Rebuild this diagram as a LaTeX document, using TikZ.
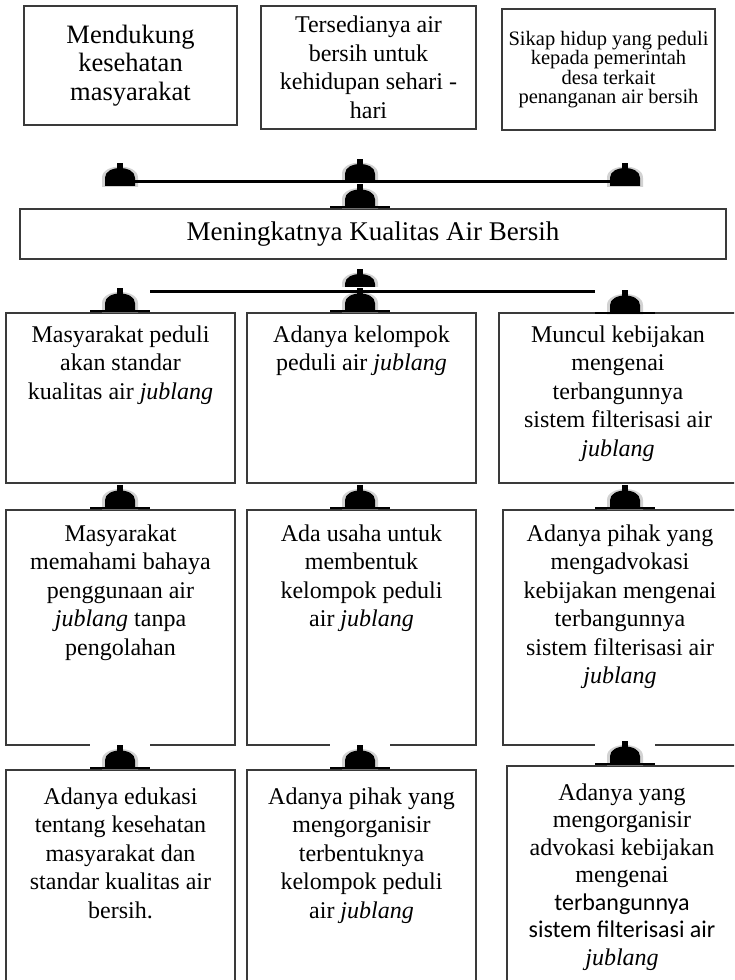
\documentclass[tikz,border=0pt]{standalone}
\usepackage{fontspec}
\setmainfont{Liberation Serif}
\newfontfamily\calibri{Carlito}
\usetikzlibrary{positioning,calc}
\definecolor{BoxInk}{HTML}{3A3A3A}

% arrow heads drawn as small domes on a white patch
\newcommand{\hatdome}{%
  \fill[gray!35] ($(path picture bounding box.south)+(-18pt,0pt)$) -- ++(0pt,9pt) .. controls +(0pt,15pt) and +(0pt,15pt) .. ($(path picture bounding box.south)+(18pt,9pt)$) -- ++(0pt,-9pt) -- cycle;
  \fill[black] ($(path picture bounding box.south)+(-15pt,1pt)$) -- ++(0pt,8pt) .. controls +(0pt,13pt) and +(0pt,13pt) .. ($(path picture bounding box.south)+(15pt,9pt)$) -- ++(0pt,-8pt) -- cycle;
  \fill[black] ($(path picture bounding box.south)+(-3pt,17pt)$) rectangle ($(path picture bounding box.south)+(3pt,24pt)$);}
\newcommand{\hatbrim}{%
  \draw[line width=2.6pt, black] ($(path picture bounding box.south)+(-30pt,1.3pt)$) -- ($(path picture bounding box.south)+(30pt,1.3pt)$);}

\tikzset{
  box/.style={draw=BoxInk, line width=1.1pt, fill=white, inner sep=0pt, align=center,
    font=\fontsize{24}{28.5}\selectfont},
  boxtext/.style={align=center, inner sep=0pt, font=\fontsize{24}{28.5}\selectfont},
  hat/.style={fill=white, minimum width=60pt, minimum height=25pt, inner sep=0pt,
    anchor=south, path picture={\hatdome}},
  brimhat/.style={hat, path picture={\hatdome\hatbrim}},
  link/.style={line width=3pt, black}
}

\begin{document}
\begin{tikzpicture}[x=1pt, y=1pt]
  \useasboundingbox (0,0) rectangle (734,-980);
  \clip (0,0) rectangle (734,-980);

  % top effects
  \node[box, minimum width=213, minimum height=119, font=\fontsize{26.5}{28.5}\selectfont]
    (eff1) at (130.5,-65.5) {Mendukung\\kesehatan\\masyarakat};
  \node[box, minimum width=215, minimum height=123]
    (eff2) at (368.5,-67.5) {Tersedianya air\\bersih untuk\\kehidupan sehari -\\hari};
  \node[box, minimum width=213, minimum height=121, font=\fontsize{20.5}{19.5}\selectfont]
    (eff3) at (608.5,-69.5) {Sikap hidup yang peduli\\kepada pemerintah\\desa terkait\\penanganan air bersih};

  % goal
  \node[box, minimum width=706, minimum height=50, font=\fontsize{27}{30}\selectfont]
    (goal) at (373,-234) {Meningkatnya Kualitas Air Bersih};

  % outputs
  \node[box, minimum width=229, minimum height=170] (out1) at (120.5,-398) {};
  \node[box, minimum width=229, minimum height=170] (out2) at (361.5,-398) {};
  \node[box, minimum width=238, minimum height=170] (out3) at (618,-398) {};
  \node[boxtext, below=13 of out1.north] {Masyarakat peduli\\akan standar\\kualitas air \textit{jublang}};
  \node[boxtext, below=13 of out2.north] {Adanya kelompok\\peduli air \textit{jublang}};
  \node[boxtext, below=13 of out3.north] {Muncul kebijakan\\mengenai\\terbangunnya\\sistem filterisasi air\\\textit{jublang}};

  % activities
  \node[box, minimum width=229, minimum height=235] (act1) at (120.5,-627.5) {};
  \node[box, minimum width=229, minimum height=235] (act2) at (361.5,-627.5) {};
  \node[box, minimum width=234, minimum height=235] (act3) at (620,-627.5) {};
  \node[boxtext, below=15 of act1.north] {Masyarakat\\memahami bahaya\\penggunaan air\\\textit{jublang} tanpa\\pengolahan};
  \node[boxtext, below=15 of act2.north] {Ada usaha untuk\\membentuk\\kelompok peduli\\air \textit{jublang}};
  \node[boxtext, below=15 of act3.north] {Adanya pihak yang\\mengadvokasi\\kebijakan mengenai\\terbangunnya\\sistem filterisasi air\\\textit{jublang}};

  % inputs
  \node[box, minimum width=229, minimum height=220] (inp1) at (120.5,-880) {};
  \node[box, minimum width=229, minimum height=220] (inp2) at (361.5,-880) {};
  \node[box, minimum width=230, minimum height=224] (inp3) at (622,-878) {};
  \node[boxtext, below=18 of inp1.north] {Adanya edukasi\\tentang kesehatan\\masyarakat dan\\standar kualitas air\\bersih.};
  \node[boxtext, below=18 of inp2.north] {Adanya pihak yang\\mengorganisir\\terbentuknya\\kelompok peduli\\air \textit{jublang}};
  \node[boxtext, below=18 of inp3.north, font=\fontsize{24}{27.5}\selectfont] {Adanya yang\\mengorganisir\\advokasi kebijakan\\mengenai\\{\calibri terbangunnya}\\{\calibri sistem filterisasi air}\\\textit{jublang}};

  % arrow heads
  \node[hat] (upL) at (120,-187) {};
  \node[brimhat] (upC) at (360,-183) {};
  \node[hat] (upR) at (625,-187) {};
  \node[brimhat] (goalIn) at (goal.north -| upC) {};
  \node[brimhat] (splitC) at (360,-293) {};
  \node[brimhat] (toOut1) at (out1.north -| upL) {};
  \node[brimhat] (toOut2) at (out2.north -| upC) {};
  \node[brimhat] (toOut3) at ([yshift=-2]out3.north -| upR) {};
  \node[brimhat] (toAct1) at (act1.north -| upL) {};
  \node[brimhat] (toAct2) at (act2.north -| upC) {};
  \node[brimhat] (toAct3) at (act3.north -| upR) {};
  \node[brimhat] (toInp1) at (inp1.north -| upL) {};
  \node[brimhat] (toInp2) at (inp2.north -| upC) {};
  \node[brimhat] (toInp3) at (inp3.north -| upR) {};

  % connectors
  \draw[link] ([yshift=1.5]upC.south -| upL) -- ([yshift=1.5]upC.south -| upR);
  \draw[link] ([yshift=-4]toOut1.north east) -- ([yshift=-4]toOut1.north east -| toOut3.north west);
\end{tikzpicture}
\end{document}
